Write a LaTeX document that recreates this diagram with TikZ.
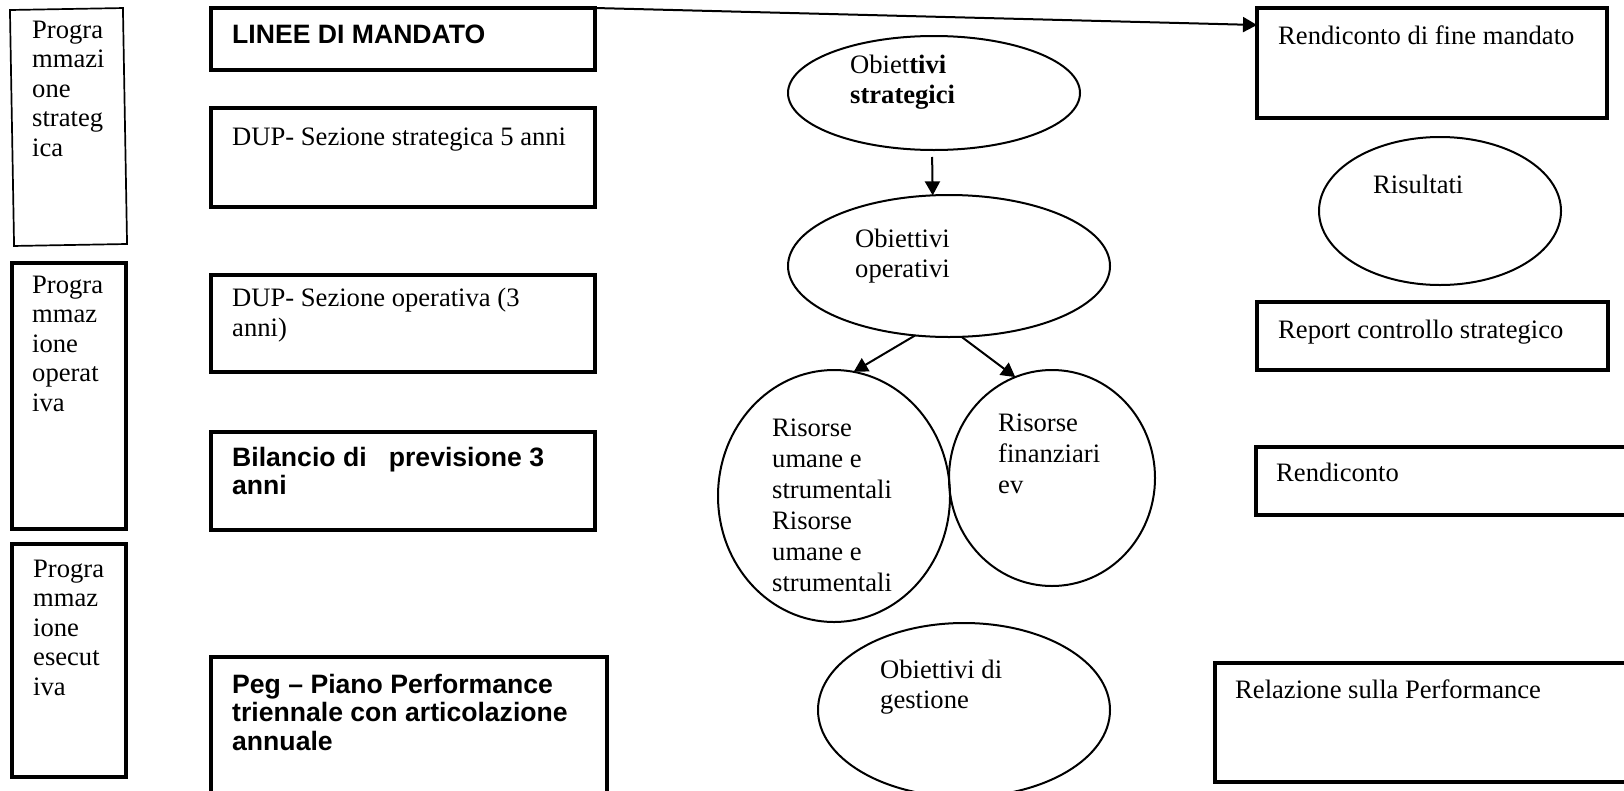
\documentclass[tikz,border=0pt]{standalone}
\usepackage{fontspec}
\setmainfont{Liberation Serif}
\newfontfamily\arialfont{Liberation Sans}
\usetikzlibrary{arrows.meta,shapes.geometric}
\begin{document}
\begin{tikzpicture}[x=1pt,y=-1pt,
  box/.style={draw, line width=3.3pt, rectangle, inner sep=0pt, outer sep=0pt, anchor=north west},
  thinbox/.style={draw, line width=1.7pt, rectangle, inner sep=0pt, outer sep=0pt, anchor=center},
  ell/.style={draw, ellipse, line width=2pt, inner sep=0pt, outer sep=0pt},
  serif/.style={anchor=north west, inner sep=0pt, align=left, font=\fontsize{26.6}{30.6}\selectfont, execute at begin node=\strut},
  sidetext/.style={serif, font=\fontsize{26.6}{29.5}\selectfont},
  restext/.style={serif, font=\fontsize{26.6}{31}\selectfont},
  sans/.style={anchor=north west, inner sep=0pt, align=left, font=\arialfont\bfseries\fontsize{26.6}{28.5}\selectfont, execute at begin node=\strut},
  conn/.style={line width=2pt, -{Triangle[length=14pt,width=15pt]}}
]
\useasboundingbox[fill=white] (0,0) rectangle (1624,790);
\begin{scope}
\clip (0,0) rectangle (1624,790);
% left column boxes
\node[thinbox, rotate=1, minimum width=113pt, minimum height=236pt] (lb1) at (68.5,127) {};
\node[box, minimum width=114pt, minimum height=266pt] (lb2) at (12,263) {};
\node[box, minimum width=114pt, minimum height=233pt] (lb3) at (12,544) {};
\node[sidetext] (t1) at (32,20.4) {Progra\\mmazi\\one\\strateg\\ica};
\node[sidetext] (t2) at (32,275.4) {Progra\\mmaz\\ione\\operat\\iva};
\node[sidetext] (t3) at (33,559.4) {Progra\\mmaz\\ione\\esecut\\iva};
% second column boxes
\node[box, minimum width=384pt, minimum height=62pt] (linee) at (211,8) {};
\node[box, minimum width=384pt, minimum height=99pt] (dups) at (211,108) {};
\node[box, minimum width=384pt, minimum height=97pt] (dupo) at (211,275) {};
\node[box, minimum width=384pt, minimum height=98pt] (bil) at (211,432) {};
\node[box, minimum width=396pt, minimum height=150pt] (peg) at (211,657) {};
\node[sans] (tlinee) at (232,23) {LINEE DI MANDATO};
\node[serif] (tdups) at (232,123.6) {DUP- Sezione strategica 5 anni};
\node[serif] (tdupo) at (232,287.6) {DUP- Sezione operativa (3\\anni)};
\node[sans] (tbil) at (232,447) {Bilancio di~~~previsione 3\\anni};
\node[sans] (tpeg) at (232,674) {Peg – Piano Performance\\triennale con articolazione\\annuale};
% centre ellipses
\node[ell, minimum width=292pt, minimum height=114pt] (e1) at (934,93) {};
\node[serif] (te1) at (850,54.6) {Obiet\textbf{tivi}\\\textbf{strategici}};
\node[ell, minimum width=322pt, minimum height=142pt] (e2) at (949,266) {};
\node[serif] (te2) at (855,228.6) {Obiettivi\\operativi};
\node[ell, minimum width=232pt, minimum height=252pt] (e3) at (834,496) {};
\node[restext] (te3) at (772,418.3) {Risorse\\umane e\\strumentali\\Risorse\\umane e\\strumentali};
\node[ell, minimum width=206pt, minimum height=216pt] (e4) at (1052,478) {};
\node[restext] (te4) at (998,414) {Risorse\\finanziari\\ev};
\node[ell, minimum width=292pt, minimum height=174pt] (e5) at (964,710) {};
\node[serif] (te5) at (880,659.6) {Obiettivi di\\gestione};
% right column
\node[box, minimum width=350pt, minimum height=110pt] (rfm) at (1257,8) {};
\node[ell, minimum width=242pt, minimum height=148pt] (e6) at (1440,211) {};
\node[box, minimum width=351pt, minimum height=68pt] (rep) at (1257,302) {};
\node[box, minimum width=390pt, minimum height=68pt] (rend) at (1256,447) {};
\node[box, minimum width=430pt, minimum height=119pt] (rel) at (1215,663) {};
\node[serif] (trfm) at (1278,22.6) {Rendiconto di fine mandato};
\node[serif] (tris) at (1373,171.6) {Risultati};
\node[serif] (trep) at (1278,316.6) {Report controllo strategico};
\node[serif] (trend) at (1276,459.6) {Rendiconto};
\node[serif] (trel) at (1235,676.6) {Relazione sulla Performance};
% connectors
\draw[conn] (linee.north east) -- ([yshift=-17pt]rfm.north west);
\draw[conn, shorten <=7pt] (e1.268) -- (e2.103);
\draw[conn] (e2.244) -- (e3.81);
\draw[conn] (e2.280) -- (e4.110);
\end{scope}
\end{tikzpicture}
\end{document}
